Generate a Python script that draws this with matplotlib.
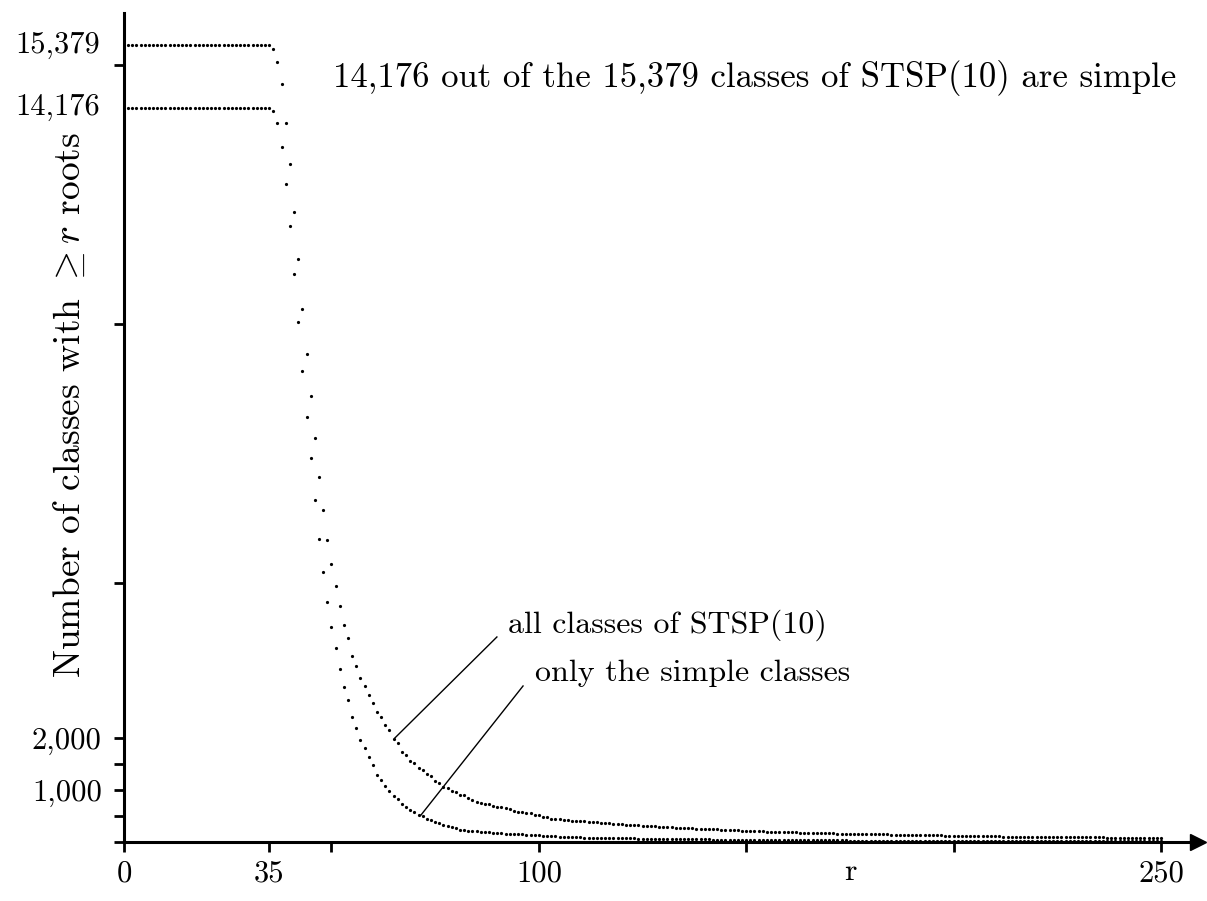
import matplotlib
matplotlib.use("Agg")
import matplotlib.pyplot as plt

# number of classes with at least r roots, r = 1..250
r_values = list(range(1, 251))

all_classes = [15379] * 35 + [
    15300, 15058, 14633, 13880, 13089, 12162, 11255, 10290, 9421, 8610,   # r 36-45
    7799, 7046, 6409, 5830, 5367, 4942, 4562, 4195, 3932, 3597,           # r 46-55
    3392, 3160, 3012, 2832, 2678, 2504, 2407, 2259, 2156, 1983,           # r 56-65
    1905, 1737, 1674, 1564, 1519, 1423, 1384, 1313, 1280, 1178,           # r 66-75
    1139, 1056, 1040, 985, 959, 907, 900, 844, 811, 766,                  # r 76-85
    760, 734, 728, 701, 682, 670, 651, 631, 598, 585,                     # r 86-95
    580, 566, 562, 527, 521, 477, 474, 450, 447, 438,                     # r 96-105
    425, 419, 411, 408, 404, 398, 392, 385, 378, 372,                     # r 106-115
    366, 360, 354, 348, 342, 336, 331, 326, 321, 316,                     # r 116-125
    311, 306, 301, 296, 291, 287, 283, 279, 274, 270,                     # r 126-135
    266, 263, 260, 257, 253, 250, 246, 243, 239, 236,                     # r 136-145
    232, 228, 224, 220, 217, 214, 211, 208, 205, 202,                     # r 146-155
    199, 197, 194, 192, 189, 187, 185, 182, 180, 178,                     # r 156-165
    176, 174, 172, 170, 168, 166, 164, 163, 161, 159,                     # r 166-175
    157, 156, 154, 152, 151, 149, 148, 146, 145, 143,                     # r 176-185
    141, 140, 138, 137, 136, 134, 133, 131, 130, 128,                     # r 186-195
    127, 126, 124, 123, 118, 117, 116, 115, 114, 113,                     # r 196-205
    112, 111, 110, 109, 108, 107, 106, 105, 104, 103,                     # r 206-215
    102, 101, 100, 99, 95, 94, 94, 93, 93, 92,                            # r 216-225
    92, 91, 91, 90, 90, 89, 89, 88, 88, 87,                               # r 226-235
    87, 86, 86, 85, 85, 84, 84, 83, 83, 82,                               # r 236-245
    82, 81, 81, 80, 80,                                                   # r 246-250
]

simple_classes = [14176] * 35 + [
    14120, 13874, 13411, 12703, 11892, 10965, 10033, 9087, 8199, 7407,    # r 36-45
    6597, 5844, 5207, 4627, 4151, 3739, 3334, 2986, 2736, 2413,           # r 46-55
    2195, 1963, 1809, 1635, 1481, 1299, 1191, 1087, 985, 894,             # r 56-65
    824, 734, 676, 612, 579, 515, 502, 444, 419, 380,                     # r 66-75
    361, 328, 315, 295, 270, 240, 235, 218, 212, 207,                     # r 76-85
    199, 187, 185, 183, 180, 168, 156, 154, 152, 150,                     # r 86-95
    148, 141, 135, 133, 129, 118, 116, 114, 110, 102,                     # r 96-105
    97, 95, 91, 89, 87, 85, 83, 81, 79, 78,                               # r 106-115
    76, 75, 73, 72, 71, 70, 69, 68, 66, 65,                               # r 116-125
    64, 63, 62, 61, 60, 59, 58, 57, 56, 55,                               # r 126-135
    54, 53, 52, 51, 50, 49, 48, 47, 46, 45,                               # r 136-145
    44, 43, 42, 41, 40, 39, 39, 38, 38, 37,                               # r 146-155
    37, 36, 36, 35, 35, 34, 34, 33, 33, 32,                               # r 156-165
    32, 31, 31, 30, 30, 30, 29, 29, 29, 28,                               # r 166-175
    28, 28, 27, 27, 27, 26, 26, 26, 25, 25,                               # r 176-185
    25, 24, 24, 24, 23, 23, 23, 22, 22, 22,                               # r 186-195
    21, 21, 21, 21, 20, 20, 20, 20, 19, 19,                               # r 196-205
    19, 19, 18, 18, 18, 18, 17, 17, 17, 17,                               # r 206-215
    16, 16, 16, 16, 15, 15, 15, 15, 15, 14,                               # r 216-225
    14, 14, 14, 14, 13, 13, 13, 13, 13, 12,                               # r 226-235
    12, 12, 12, 12, 11, 11, 11, 11, 11, 10,                               # r 236-245
    10, 10, 10, 10, 10,                                                   # r 246-250
]

x_ticks = [0, 35, 50, 100, 150, 200, 250]
x_tick_labels = ["0", "35", "", "100", "", "", "250"]
y_ticks = [0, 500, 1000, 1500, 2000, 5000, 10000, 15000]
y_tick_labels = ["", "", "1,000", "", "2,000", "", "", ""]
total_classes = 15379
simple_total = 14176

plt.rcParams['font.family'] = ['cmr10', 'DejaVu Serif']
plt.rcParams['mathtext.fontset'] = 'cm'
plt.rcParams['axes.formatter.use_mathtext'] = True

FS = 22

fig = plt.figure(figsize=(12.07, 9.01), dpi=100)
fig.patch.set_facecolor('white')

# axes placed so that 1 unit of r ~ 4.15 px and 1000 classes ~ 51.8 px
ax = fig.add_axes([124 / 1207, 59 / 901, 1074 / 1207, 829 / 901])
ax.set_xlim(0, 1074 / 4.148)
ax.set_ylim(0, 829 / 0.0518)

ax.plot(r_values, all_classes, 'o', color='black', ms=2.3, mew=0, clip_on=False)
ax.plot(r_values, simple_classes, 'o', color='black', ms=2.3, mew=0, clip_on=False)

# spines: only left and bottom, bottom ends in an arrow
for side in ['top', 'right']:
    ax.spines[side].set_visible(False)
for side in ['left', 'bottom']:
    ax.spines[side].set_linewidth(2.2)
ax.plot([1], [0], marker='>', color='black', ms=11, transform=ax.transAxes,
        clip_on=False)

ax.set_xticks(x_ticks)
ax.set_xticklabels(x_tick_labels, fontsize=FS)
ax.set_xticks([175], minor=True)
ax.set_xticklabels(["r"], minor=True, fontsize=FS + 1)
ax.tick_params(axis='x', which='minor', length=0, pad=12)
ax.set_yticks(y_ticks)
ax.set_yticklabels(y_tick_labels, fontsize=FS)
ax.tick_params(axis='both', which='major', direction='out', length=7, width=2, pad=6)
ax.tick_params(axis='y', which='major', pad=9)

# extra labels without tick marks
ax.text(-5.8, total_classes, "15,379", ha='right', va='center', fontsize=FS)
ax.text(-5.8, simple_total, "14,176", ha='right', va='center', fontsize=FS)

ax.set_ylabel(r"Number of classes with $\geq r$ roots", fontsize=27)
ax.yaxis.set_label_coords(-37 / 1074, 0.527)

ax.text(50.4, 14749, "14,176 out of the 15,379 classes of STSP(10) are simple",
        ha='left', va='center', fontsize=25)

# annotations with leader lines
ax.plot([65.3, 89.9], [2008, 3958], color='black', lw=1)
ax.text(92.6, 4189, "all classes of STSP(10)", ha='left', va='center', fontsize=23)
ax.plot([71.6, 96.2], [521, 3012], color='black', lw=1)
ax.text(99.1, 3263, "only the simple classes", ha='left', va='center', fontsize=23)

plt.savefig('out.png', dpi=100, facecolor='white')
